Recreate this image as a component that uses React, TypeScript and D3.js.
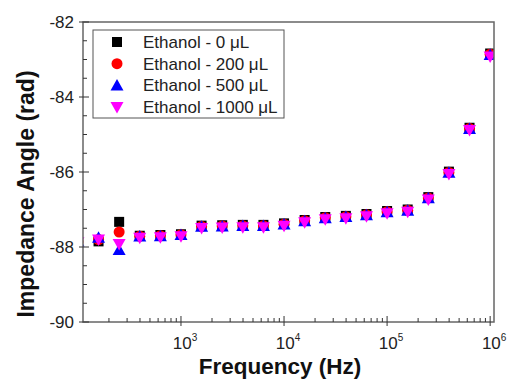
import React from "react";
import * as d3 from "d3";

const freqs = [100, 158.5, 251.2, 398.1, 631, 1000, 1585, 2512, 3981, 6310, 10000, 15849, 25119, 39811, 63096, 100000, 158489, 251189, 398107, 630957, 1000000];
const black = [-87.85, -87.85, -87.33, -87.70, -87.68, -87.66, -87.43, -87.42, -87.41, -87.41, -87.37, -87.28, -87.20, -87.17, -87.12, -87.04, -87.00, -86.67, -85.99, -84.82, -82.84];
const red = [-87.86, -87.80, -87.60, -87.71, -87.70, -87.67, -87.45, -87.44, -87.43, -87.43, -87.39, -87.30, -87.22, -87.19, -87.14, -87.06, -87.02, -86.69, -86.01, -84.84, -82.86];
const blue = [-87.85, -87.75, -88.08, -87.72, -87.71, -87.68, -87.46, -87.45, -87.44, -87.44, -87.40, -87.31, -87.23, -87.20, -87.15, -87.07, -87.03, -86.70, -86.02, -84.85, -82.88];
const magenta = [-87.87, -87.80, -87.92, -87.75, -87.74, -87.71, -87.49, -87.48, -87.47, -87.47, -87.43, -87.34, -87.26, -87.23, -87.18, -87.10, -87.06, -86.73, -86.05, -84.88, -82.92];

const seriesNames = ["Ethanol - 0 \u03BCL", "Ethanol - 200 \u03BCL", "Ethanol - 500 \u03BCL", "Ethanol - 1000 \u03BCL"];
const seriesColors = ["#000000", "#ff0000", "#0000ff", "#ff00ff"];
const seriesShapes = ["square", "circle", "up", "down"];
const seriesData = [black, red, blue, magenta];

const yTicks = [-90, -88, -86, -84, -82];
const xTickExps = [3, 4, 5, 6];

const W = 507, H = 391;
const L = 83, R = 494, T = 22, B = 322;
const FONT = "'Liberation Sans', Arial, sans-serif";

function Marker({ shape, x, y, color }: { shape: string; x: number; y: number; color: string }) {
  if (shape === "square") return <rect x={x - 5} y={y - 5} width={10} height={10} fill={color} />;
  if (shape === "circle") return <circle cx={x} cy={y} r={5.5} fill={color} />;
  if (shape === "up") return <path d={`M${x},${y - 6.5} L${x + 6.5},${y + 5} L${x - 6.5},${y + 5} Z`} fill={color} />;
  return <path d={`M${x},${y + 6.5} L${x + 6.5},${y - 5} L${x - 6.5},${y - 5} Z`} fill={color} />;
}

export default function App() {
  const x = d3.scaleLog().domain([112, 1.09e6]).range([L, R]);
  const y = d3.scaleLinear().domain([-90, -82]).range([B, T]);

  const yMinor = d3.range(-90, -81.9, 0.5).filter((v) => Math.abs(v % 2) > 0.01);
  const xMinor: number[] = [];
  for (let e = 2; e <= 5; e++) for (let m = 2; m <= 9; m++) {
    const v = m * Math.pow(10, e);
    if (v > 112 && v < 1.09e6) xMinor.push(v);
  }

  return (
    <svg width={W} height={H} style={{ position: "absolute", left: 0, top: 0, background: "#fff" }}>
      <defs>
        <clipPath id="plot"><rect x={L} y={T} width={R - L} height={B - T} /></clipPath>
      </defs>
      <rect x={0} y={0} width={W} height={H} fill="#fff" />
      <g clipPath="url(#plot)">
        {seriesData.map((data, si) => (
          <g key={si}>
            {data.map((v, i) => (
              <Marker key={i} shape={seriesShapes[si]} x={x(freqs[i])} y={y(v)} color={seriesColors[si]} />
            ))}
          </g>
        ))}
      </g>
      <rect x={L} y={T} width={R - L} height={B - T} fill="none" stroke="#666" strokeWidth={1.5} />
      {yTicks.map((t) => (
        <g key={t}>
          <line x1={L - 4} x2={L + 6} y1={y(t)} y2={y(t)} stroke="#333" strokeWidth={1} />
          <text x={L - 9} y={y(t) + 6} textAnchor="end" fontFamily={FONT} fontSize={17} fill="#222">{t}</text>
        </g>
      ))}
      {yMinor.map((t) => (
        <line key={t} x1={L} x2={L + 4} y1={y(t)} y2={y(t)} stroke="#333" strokeWidth={1} />
      ))}
      {xTickExps.map((e) => {
        const px = x(Math.pow(10, e));
        return (
          <g key={e}>
            <line x1={px} x2={px} y1={B + 4} y2={B - 6} stroke="#333" strokeWidth={1} />
            <text x={px + 4} y={B + 27} textAnchor="middle" fontFamily={FONT} fontSize={17} fill="#222">
              10<tspan dy={-8} fontSize={10}>{e}</tspan>
            </text>
          </g>
        );
      })}
      {xMinor.map((t) => (
        <line key={t} x1={x(t)} x2={x(t)} y1={B} y2={B - 4} stroke="#333" strokeWidth={1} />
      ))}
      <text x={280} y={374} textAnchor="middle" fontFamily={FONT} fontSize={22.5} fontWeight="bold" fill="#111">Frequency (Hz)</text>
      <text transform={`translate(34,194) rotate(-90)`} textAnchor="middle" fontFamily={FONT} fontSize={23} fontWeight="bold" fill="#111">Impedance Angle (rad)</text>
      <rect x={93} y={30} width={191} height={88} fill="#fff" stroke="#555" strokeWidth={1} />
      {seriesNames.map((n, i) => {
        const ly = 42 + i * 21.7;
        return (
          <g key={n}>
            <Marker shape={seriesShapes[i]} x={117} y={ly} color={seriesColors[i]} />
            <text x={143} y={ly + 6} fontFamily={FONT} fontSize={17} fill="#222">{n}</text>
          </g>
        );
      })}
    </svg>
  );
}
